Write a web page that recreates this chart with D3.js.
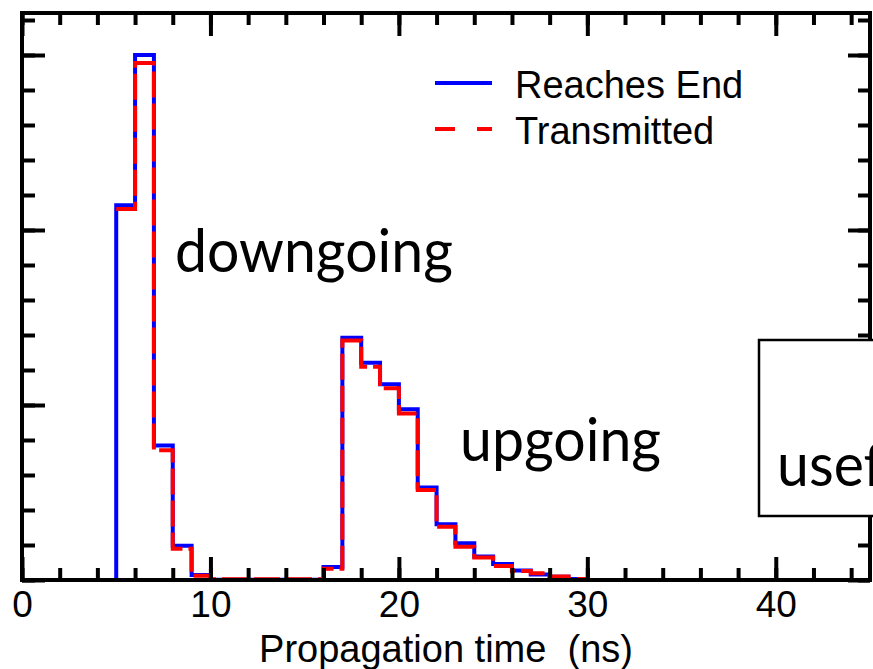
<!DOCTYPE html>
<html>
<head>
<meta charset="utf-8">
<script src="https://cdn.jsdelivr.net/npm/d3@7"></script>
<style>
  body { margin: 0; background: #fff; }
  svg { display: block; }
</style>
</head>
<body>
<div id="chart"></div>
<script>
// bin edges in ns (1 ns bins starting at 0)
var binStart = 0;
var binWidth = 1;

// Reaches End (blue, solid), bins 0..29
var reachesEnd = [0, 0, 0, 0, 0, 10.71, 15.0, 3.84, 0.98, 0.14,
                  0.01, 0.01, 0.01, 0.01, 0.01, 0.01, 0.37, 6.92, 6.21, 5.59,
                  4.88, 2.64, 1.59, 1.05, 0.67, 0.46, 0.27, 0.16, 0.09, 0.03];

// Transmitted (red, dashed), bins 5..29
var transStart = 5;
var transmitted = [10.6, 14.77, 3.71, 0.89, 0.12,
                   0.02, 0.02, 0.02, 0.02, 0.02, 0.02, 0.32, 6.84, 6.09, 5.48,
                   4.76, 2.57, 1.52, 0.95, 0.64, 0.40, 0.26, 0.19, 0.10, 0.03];

var xMajor = [0, 10, 20, 30, 40];
var xMinor = d3.range(0, 46, 2);
var yMajor = [0, 5, 10, 15];
var yMinor = d3.range(0, 17, 1);

var legendItems = [
    { label: "Reaches End", color: "#0000ff", dash: null },
    { label: "Transmitted", color: "#ff0000", dash: "20,22" }
];

var annotations = [
    { text: "downgoing", x: 175, y: 272 },
    { text: "upgoing", x: 460, y: 461 },
    { text: "useful", x: 777, y: 486 }
];

(function () {
    var width = 873, height = 669;
    // plot frame (note: "top" is reserved on window, so use other names)
    var pLeft = 22, pRight = 870, pTop = 13, pBottom = 580;

    var x = d3.scaleLinear().domain([0, 45]).range([pLeft, pRight]);
    var y = d3.scaleLinear().domain([0, 16.2]).range([pBottom, pTop]);

    var svg = d3.select('#chart').append('svg')
        .attr('width', width)
        .attr('height', height);

    // step path for a histogram
    function stepPoints(vals, start) {
        var pts = [];
        vals.forEach(function (v, i) {
            var x0 = binStart + (start + i) * binWidth;
            pts.push([x0, v], [x0 + binWidth, v]);
        });
        return pts;
    }

    var line = d3.line()
        .x(function (d) { return x(d[0]); })
        .y(function (d) { return y(d[1]); });

    // blue starts from zero so the rising edge at 5 ns is drawn
    var bluePts = stepPoints(reachesEnd, 0);
    bluePts.push([30, 0]);
    svg.append('path')
        .attr('d', line(bluePts))
        .attr('fill', 'none')
        .attr('stroke', '#0000ff')
        .attr('stroke-width', 4);

    var redPts = stepPoints(transmitted, transStart);
    redPts.push([30, 0]);
    svg.append('path')
        .attr('d', line(redPts))
        .attr('fill', 'none')
        .attr('stroke', '#ff0000')
        .attr('stroke-width', 4)
        .attr('stroke-dasharray', '26,6');

    // axes: all ticks pointing inward
    function styleAxis(g) {
        g.select('.domain').remove();
        g.selectAll('.tick line').attr('stroke', '#000').attr('stroke-width', 4);
    }

    svg.append('g').attr('transform', 'translate(0,' + pBottom + ')')
        .call(d3.axisBottom(x).tickValues(xMinor).tickSize(-12).tickFormat(''))
        .call(styleAxis);
    var xb = svg.append('g').attr('transform', 'translate(0,' + pBottom + ')')
        .call(d3.axisBottom(x).tickValues(xMajor).tickSize(-23).tickPadding(11).tickFormat(d3.format('d')))
        .call(styleAxis);
    xb.selectAll('text')
        .attr('font-family', '"Liberation Sans", Arial, sans-serif')
        .attr('font-size', 37)
        .attr('fill', '#000');

    svg.append('g').attr('transform', 'translate(0,' + pTop + ')')
        .call(d3.axisTop(x).tickValues(xMinor).tickSize(-12).tickFormat(''))
        .call(styleAxis);
    svg.append('g').attr('transform', 'translate(0,' + pTop + ')')
        .call(d3.axisTop(x).tickValues(xMajor).tickSize(-23).tickFormat(''))
        .call(styleAxis);

    svg.append('g').attr('transform', 'translate(' + pLeft + ',0)')
        .call(d3.axisLeft(y).tickValues(yMinor).tickSize(-13).tickFormat(''))
        .call(styleAxis);
    svg.append('g').attr('transform', 'translate(' + pLeft + ',0)')
        .call(d3.axisLeft(y).tickValues(yMajor).tickSize(-23).tickFormat(''))
        .call(styleAxis);
    svg.append('g').attr('transform', 'translate(' + pRight + ',0)')
        .call(d3.axisRight(y).tickValues(yMinor).tickSize(-12).tickFormat(''))
        .call(styleAxis);
    svg.append('g').attr('transform', 'translate(' + pRight + ',0)')
        .call(d3.axisRight(y).tickValues(yMajor).tickSize(-22).tickFormat(''))
        .call(styleAxis);

    // frame
    svg.append('rect')
        .attr('x', pLeft).attr('y', pTop)
        .attr('width', pRight - pLeft).attr('height', pBottom - pTop)
        .attr('fill', 'none')
        .attr('stroke', '#000')
        .attr('stroke-width', 4);

    // x title
    svg.append('text')
        .attr('x', x(22.5))
        .attr('y', 662)
        .attr('text-anchor', 'middle')
        .attr('font-family', '"Liberation Sans", Arial, sans-serif')
        .attr('font-size', 38)
        .style('white-space', 'pre')
        .text('Propagation time  (ns)');

    // legend
    var leg = svg.append('g').selectAll('g')
        .data(legendItems)
        .enter().append('g')
        .attr('transform', function (d, i) { return 'translate(0,' + (83 + i * 46) + ')'; });
    leg.append('line')
        .attr('x1', 435).attr('x2', 492)
        .attr('stroke', function (d) { return d.color; })
        .attr('stroke-width', 4)
        .attr('stroke-dasharray', function (d) { return d.dash; });
    leg.append('text')
        .attr('x', 515)
        .attr('y', 15)
        .attr('font-family', '"Liberation Sans", Arial, sans-serif')
        .attr('font-size', 38)
        .text(function (d) { return d.label; });

    // box on the right, partly off the page
    svg.append('rect')
        .attr('x', 759).attr('y', 340)
        .attr('width', 200).attr('height', 176)
        .attr('fill', '#fff')
        .attr('stroke', '#000')
        .attr('stroke-width', 2.5);

    // big annotation words
    var ann = svg.selectAll('text.ann')
        .data(annotations)
        .enter().append('text')
        .attr('class', 'ann')
        .attr('font-family', 'Lato, "Open Sans", sans-serif')
        .attr('font-size', 60)
        .text(function (d) { return d.text; });

    // squeeze to match the narrow face of the original
    var natural = ann.filter(function (d) { return d.text == 'downgoing'; }).node().getComputedTextLength();
    var sx = 278 / natural;
    ann.attr('transform', function (d) {
        return 'translate(' + d.x + ',' + d.y + ') scale(' + sx + ',1)';
    });
})();
</script>
</body>
</html>
